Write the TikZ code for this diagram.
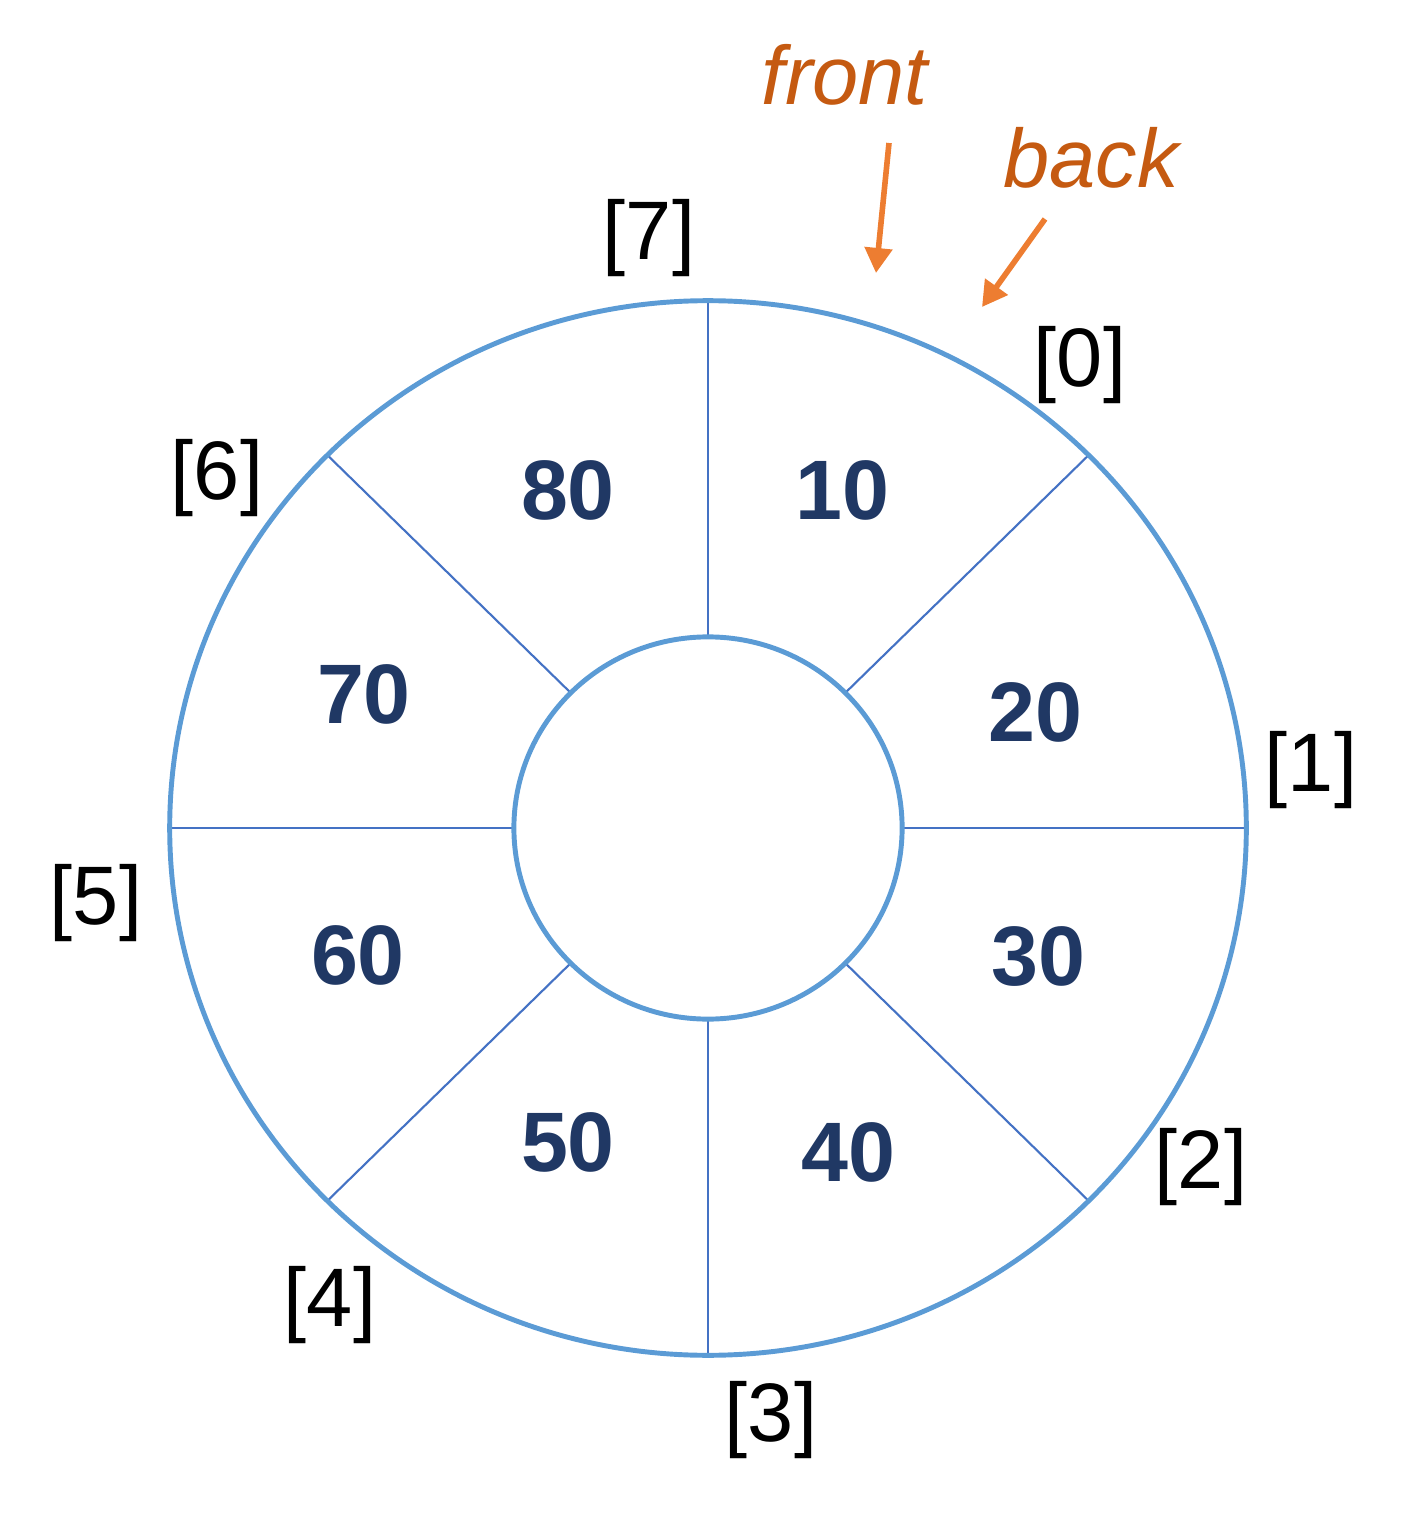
\documentclass[tikz,border=0pt]{standalone}
\usepackage{fontspec}
\setmainfont{Liberation Sans}
\usetikzlibrary{arrows.meta}

\definecolor{ringblue}{HTML}{5B9BD5}
\definecolor{spokeblue}{HTML}{4472C4}
\definecolor{valblue}{HTML}{203864}
\definecolor{ptrtext}{HTML}{C55A11}
\definecolor{ptrarrow}{HTML}{ED7D31}

\begin{document}
\begin{tikzpicture}[x=0.01cm, y=-0.01cm,
    ring/.style={draw=ringblue, line width=1.4pt},
    spoke/.style={draw=spokeblue, line width=0.6pt},
    value/.style={font=\fontsize{24}{28}\selectfont\bfseries, text=valblue, inner sep=0},
    index/.style={font=\fontsize{23.6}{28}\selectfont, inner sep=0},
    pointer/.style={font=\fontsize{23.6}{28}\selectfont\itshape, text=ptrtext, inner sep=0},
    ptr/.style={draw=ptrarrow, line width=1.6pt, -{Triangle[length=0.25cm, width=0.27cm]}}]
    \useasboundingbox (0,0) rectangle (1414,1513);

    % ring with eight slots
    \coordinate (center) at (708,828);
    \foreach \a in {0,45,...,315}
        \draw[spoke] ([shift={(\a:1.94cm and 1.91cm)}]center) -- ([shift={(\a:5.38cm and 5.27cm)}]center);
    \draw[ring] (center) ellipse [x radius=5.38cm, y radius=5.27cm];
    \draw[ring] (center) ellipse [x radius=1.94cm, y radius=1.91cm];

    % stored values
    \foreach \v/\x/\y in {10/842/490, 20/1035/712, 30/1038/957, 40/848/1152,
                          50/568/1142, 60/358/955, 70/364/694, 80/568/490}
        \node[value] (val\v) at (\x,\y) {\v};

    % slot indices
    \foreach \i/\x/\y in {0/1080/365, 1/1311/770, 2/1201/1167, 3/771/1420,
                          4/330/1305, 5/96/903, 6/217/478, 7/649/238}
        \node[index] (idx\i) at (\x,\y) {[\i]};

    % front and back pointers
    \node[pointer] (front) at (845,75) {front};
    \node[pointer] (back) at (1091,158) {back};
    \coordinate (front_tail) at (889,143);
    \coordinate (front_head) at (876,273);
    \coordinate (back_tail) at (1045,219);
    \coordinate (back_head) at (982,307);
    \draw[ptr] (front_tail) -- (front_head);
    \draw[ptr] (back_tail) -- (back_head);
\end{tikzpicture}
\end{document}
